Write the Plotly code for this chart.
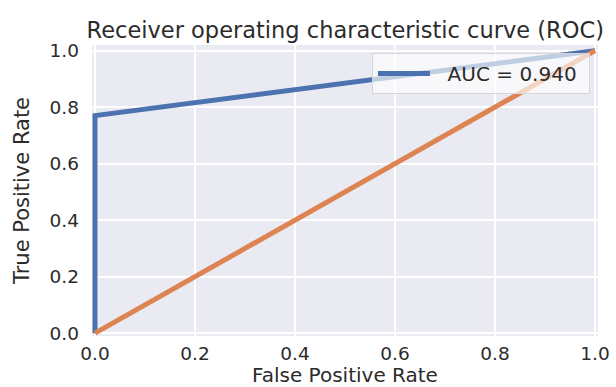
import plotly.graph_objects as go

# ROC curve points (false positive rate, true positive rate)
fpr = [0.0, 0.0, 1.0]
tpr = [0.0, 0.77, 1.0]
auc_label = "AUC = 0.940"

# chance diagonal
chance_x = [0.0, 1.0]
chance_y = [0.0, 1.0]

tick_vals = [0.0, 0.2, 0.4, 0.6, 0.8, 1.0]
tick_text = ["0.0", "0.2", "0.4", "0.6", "0.8", "1.0"]

BLUE = "#4C72B0"
ORANGE = "#DD8452"
FONT = "DejaVu Sans"
TEXT = "#2b2b2b"
NBSP = "\u00a0"

fig = go.Figure()
fig.add_trace(go.Scatter(
    x=fpr, y=tpr, mode="lines", name=NBSP * 2 + auc_label + NBSP,
    line=dict(color=BLUE, width=5), showlegend=True,
))
fig.add_trace(go.Scatter(
    x=chance_x, y=chance_y, mode="lines", name="chance",
    line=dict(color=ORANGE, width=5), showlegend=False,
))

axis_common = dict(
    tickvals=tick_vals, ticktext=tick_text,
    showgrid=True, gridcolor="white", gridwidth=1.6,
    zeroline=False, showline=False, ticks="",
    tickfont=dict(family=FONT, size=18.5, color=TEXT),
    automargin=False,
)

fig.update_layout(
    width=616, height=387,
    margin=dict(l=92, r=18, t=45, b=51),
    paper_bgcolor="white",
    plot_bgcolor="#EAEAF2",
    title=dict(
        text="Receiver operating characteristic curve (ROC)",
        font=dict(family=FONT, size=22.5, color=TEXT),
        x=0.5605, xanchor="center", y=0.922, yanchor="middle",
    ),
    xaxis=dict(
        range=[-0.006, 1.006],
        title=dict(text="False Positive Rate", font=dict(family=FONT, size=20, color=TEXT), standoff=2),
        ticklabelstandoff=4,
        **axis_common,
    ),
    yaxis=dict(
        range=[-0.01, 1.02],
        title=dict(text="True Positive Rate", font=dict(family=FONT, size=21, color=TEXT), standoff=14),
        ticklabelstandoff=12,
        **axis_common,
    ),
    legend=dict(
        x=0.984, xanchor="right", y=0.9725, yanchor="top",
        bgcolor="rgba(255,255,255,0.65)", bordercolor="#D6D6D6", borderwidth=1,
        font=dict(family=FONT, size=20, color=TEXT),
        itemwidth=52,
    ),
)

fig.write_html("out.html")
